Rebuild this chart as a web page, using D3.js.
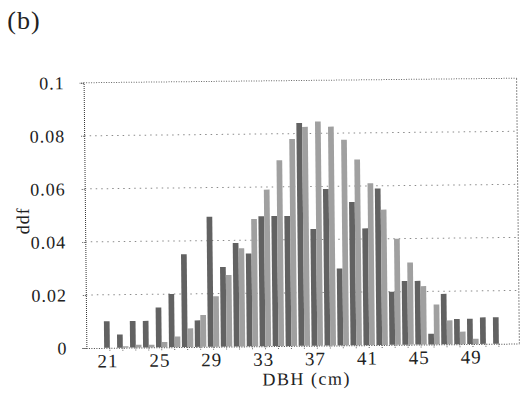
<!DOCTYPE html>
<html>
<head>
<meta charset="utf-8">
<script src="https://cdn.jsdelivr.net/npm/d3@7"></script>
<style>
  html, body { margin: 0; padding: 0; background: #fff; }
  svg { display: block; }
  text { font-family: "Liberation Serif", "DejaVu Serif", serif; fill: #222; }
</style>
</head>
<body>
<svg id="chart" width="522" height="395"></svg>
<script>
// Diameter classes (cm)
const dbh = [21, 22, 23, 24, 25, 26, 27, 28, 29, 30, 31, 32, 33, 34, 35, 36,
             37, 38, 39, 40, 41, 42, 43, 44, 45, 46, 47, 48, 49, 50, 51];
// Density per class, first series (darker bars)
const ddfA = [0.010, 0.005, 0.010, 0.010, 0.015, 0.020, 0.035, 0.010, 0.049, 0.030,
              0.039, 0.035, 0.049, 0.049, 0.049, 0.084, 0.044, 0.059, 0.029, 0.054,
              0.044, 0.059, 0.020, 0.024, 0.024, 0.004, 0.019, 0.0095, 0.0095, 0.010, 0.010];
// Density per class, second series (lighter bars)
const ddfB = [0.000, 0.0005, 0.001, 0.001, 0.002, 0.004, 0.007, 0.012, 0.019, 0.027,
              0.037, 0.048, 0.059, 0.070, 0.078, 0.0825, 0.0845, 0.0825, 0.0775, 0.070,
              0.061, 0.051, 0.040, 0.031, 0.022, 0.015, 0.009, 0.0047, 0.002, 0.000, 0.000];
const yTicks = [0, 0.02, 0.04, 0.06, 0.08, 0.1];
const yTickLabels = ["0", "0.02", "0.04", "0.06", "0.08", "0.1"];
const xLabelled = [21, 25, 29, 33, 37, 41, 45, 49];
const seriesKeys = ["A", "B"];

const svg = d3.select("#chart");
svg.append("rect").attr("width", 522).attr("height", 395).attr("fill", "#fff");

svg.append("text")
  .attr("x", 24).attr("y", 29)
  .attr("text-anchor", "middle")
  .attr("font-size", 26)
  .attr("letter-spacing", 1)
  .text("(b)");

const g = svg.append("g").attr("transform", "rotate(-0.6,300,215)");

const left = 85, right = 518;
const y = d3.scaleLinear().domain([0, 0.1]).range([345.8, 80.5]);
const x = d3.scaleBand().domain(dbh).range([102, 504]).paddingInner(0.12).paddingOuter(0.06);
const xi = d3.scaleBand().domain(seriesKeys).range([0, x.bandwidth()]);

// gridlines
g.append("g").selectAll("line")
  .data(yTicks.filter(t => t > 0 && t < 0.1))
  .join("line")
  .attr("x1", left).attr("x2", right)
  .attr("y1", d => y(d)).attr("y2", d => y(d))
  .attr("stroke", "#8a8a8a").attr("stroke-width", 1)
  .attr("stroke-dasharray", "1.5,4");

// plot frame: top and right
g.append("line").attr("x1", left).attr("x2", right)
  .attr("y1", y(0.1)).attr("y2", y(0.1))
  .attr("stroke", "#666").attr("stroke-dasharray", "1,1.5");
g.append("line").attr("x1", right).attr("x2", right)
  .attr("y1", y(0.1)).attr("y2", y(0))
  .attr("stroke", "#666").attr("stroke-dasharray", "1.5,1.5");

// bars
const rows = dbh.map((d, i) => ({ d, A: ddfA[i], B: ddfB[i] }));
const fills = { A: "#626262", B: "#a0a0a0" };
g.append("g").selectAll("g")
  .data(rows)
  .join("g")
  .attr("transform", r => `translate(${x(r.d)},0)`)
  .selectAll("rect")
  .data(r => seriesKeys.map(k => ({ k, v: r[k] })))
  .join("rect")
  .attr("x", s => xi(s.k))
  .attr("width", xi.bandwidth())
  .attr("y", s => y(s.v))
  .attr("height", s => y(0) - y(s.v))
  .attr("fill", s => fills[s.k]);

// y axis
const yAxis = d3.axisLeft(y)
  .tickValues(yTicks)
  .tickFormat((d, i) => yTickLabels[i])
  .tickSize(4).tickPadding(15);
const gy = g.append("g").attr("transform", `translate(${left},0)`).call(yAxis);
gy.select(".domain").attr("stroke", "#333").attr("stroke-dasharray", "1,1");
gy.selectAll(".tick line").attr("stroke", "#555").attr("stroke-dasharray", "1,1");
gy.selectAll(".tick text")
  .attr("font-family", "Liberation Serif, DejaVu Serif, serif")
  .attr("font-size", 18).attr("letter-spacing", 1).attr("fill", "#222");

// x axis
const xAxis = d3.axisBottom(x)
  .tickValues(dbh)
  .tickFormat(d => xLabelled.includes(d) ? String(d) : "")
  .tickSize(4).tickSizeOuter(0).tickPadding(2);
const gx = g.append("g").attr("transform", `translate(0,${y(0)})`).call(xAxis);
gx.select(".domain").attr("d", `M${left},0.5H${right}`)
  .attr("stroke", "#444").attr("stroke-dasharray", "1,1.5");
gx.selectAll(".tick line").attr("stroke", "#666").attr("stroke-dasharray", "1,1");
gx.selectAll(".tick text")
  .attr("x", -2)
  .attr("font-family", "Liberation Serif, DejaVu Serif, serif")
  .attr("font-size", 19).attr("letter-spacing", 1).attr("fill", "#222");

// axis titles
g.append("text")
  .attr("x", 305).attr("y", 385)
  .attr("text-anchor", "middle")
  .attr("font-size", 18).attr("letter-spacing", 1.5)
  .text("DBH (cm)");
g.append("text")
  .attr("transform", "translate(29,218) rotate(-90)")
  .attr("text-anchor", "middle")
  .attr("font-size", 18).attr("letter-spacing", 1)
  .text("ddf");
</script>
</body>
</html>
